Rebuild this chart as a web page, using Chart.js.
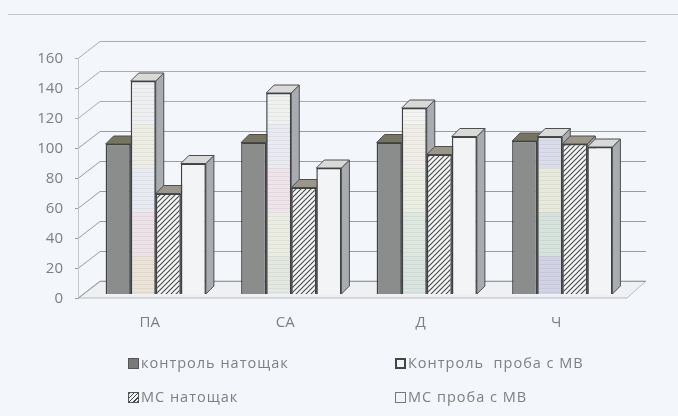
<!DOCTYPE html>
<html>
<head>
<meta charset="utf-8">
<script src="https://cdn.jsdelivr.net/npm/chart.js@4"></script>
<style>
    html, body { margin: 0; padding: 0; background: #f3f6fb; overflow: hidden; }
    #wrap { position: relative; width: 678px; height: 416px; filter: blur(0.5px); }
    #myChart { position: absolute; left: 0; top: 0; }
    #rule { position: absolute; left: 8px; right: 0; top: 14px; height: 1px; background: #c6c8ca; }
    .item { position: absolute; font: 14.5px "Open Sans", sans-serif; color: #7c7f83; white-space: pre; letter-spacing: 1px; line-height: 16px; }
    .box { display: inline-block; width: 9px; height: 9px; margin-right: 2px; border: 1px solid #555; vertical-align: -1px; }
</style>
</head>
<body>
<div id="wrap">
    <div id="rule"></div>
    <canvas id="myChart" width="678" height="416"></canvas>
    <div id="legend"></div>
</div>
<script>
const labels = ['ПА', 'СА', 'Д', 'Ч'];
const names = ['контроль натощак', 'Контроль  проба с МВ', 'МС натощак', 'МС проба с МВ'];
const controlFasting = [100, 101, 101, 102];
const controlTest = [142, 134, 124, 105];
const msFasting = [67, 71, 93, 100];
const msTest = [87, 84, 105, 98];

// scan colours of the second series, from top to bottom of each bar
const bands = [
    ['#eff0f2', '#eeede3', '#e8eaf2', '#ece2e8', '#ebe2d8'],
    ['#eff2ee', '#eaebf2', '#eee4ea', '#ebede2', '#e3e9e1'],
    ['#f3f3f1', '#f0ede7', '#ebeee3', '#dee8df', '#d9e4df'],
    ['#e8ede4', '#dbdcea', '#e6e9dc', '#d6e2dc', '#d1d3e4'],
];

// 3d look: the bars stand mid floor, the walls sit behind them
const depthX = 8, depthY = 8;
const frontDx = -10, frontDy = 4;
const backDx = 12, backDy = -13;

function makePattern(draw, w, h) {
    const c = document.createElement('canvas');
    c.width = w;
    c.height = h;
    draw(c.getContext('2d'));
    return document.createElement('canvas').getContext('2d').createPattern(c, 'repeat');
}

const hatch = makePattern(function (g) {
    g.fillStyle = '#f5f6f6';
    g.fillRect(0, 0, 5, 5);
    g.strokeStyle = '#4c4e50';
    g.lineWidth = 1.2;
    g.beginPath();
    g.moveTo(-1, 6); g.lineTo(6, -1);
    g.moveTo(-1, 1); g.lineTo(1, -1);
    g.moveTo(4, 6); g.lineTo(6, 4);
    g.stroke();
}, 5, 5);

const stripes = bands.map(function (colors) {
    return makePattern(function (g) {
        const top = 80, step = 44;
        for (let y = 0; y < 416; y++) {
            const i = Math.max(0, Math.min(colors.length - 1, Math.floor((y - top) / step)));
            g.fillStyle = colors[i];
            g.fillRect(0, y, 4, 1);
            if (y % 4 == 0) {
                g.fillStyle = 'rgba(120,120,120,.10)';
                g.fillRect(0, y, 4, 1);
            }
        }
    }, 4, 416);
});

const gridBox = {
    id: 'gridBox',
    beforeDatasetsDraw(chart) {
        const c = chart.ctx, a = chart.chartArea, y = chart.scales.y;
        const x0 = a.left + frontDx, x1 = a.right + frontDx + 7;
        const bx0 = a.left + backDx, bx1 = a.right + backDx + 4;
        const zero = y.getPixelForValue(0);
        c.save();
        c.lineWidth = 1;

        c.fillStyle = '#eef0f3';
        c.beginPath();
        c.moveTo(x0, zero + frontDy);
        c.lineTo(bx0, zero + backDy);
        c.lineTo(bx1, zero + backDy);
        c.lineTo(x1, zero + frontDy);
        c.closePath();
        c.fill();
        c.strokeStyle = '#b9bbbd';
        c.stroke();

        y.ticks.forEach(function (t) {
            const p = Math.round(y.getPixelForValue(t.value)) + .5;
            c.strokeStyle = t.value > 100 ? '#a9abad' : '#999b9d';
            c.beginPath();
            c.moveTo(x0 - 3, p + frontDy);
            c.lineTo(x0, p + frontDy);
            c.lineTo(bx0, p + backDy);
            c.lineTo(bx1, p + backDy);
            c.stroke();
        });

        c.strokeStyle = '#c4c6c8';
        c.beginPath();
        c.moveTo(x0 + .5, y.getPixelForValue(160) + frontDy);
        c.lineTo(x0 + .5, zero + frontDy);
        c.stroke();

        // side and top faces, left to right, fronts are painted over them by the library
        chart.data.datasets.forEach(function (ds, i) {
            chart.getDatasetMeta(i).data.forEach(function (bar) {
                const l = bar.x - bar.width / 2, r = bar.x + bar.width / 2;
                const t = bar.y, b = bar.base;
                c.strokeStyle = '#4c4e50';
                c.fillStyle = '#a8acb1';
                c.beginPath();
                c.moveTo(r, t);
                c.lineTo(r + depthX, t - depthY);
                c.lineTo(r + depthX, b - depthY);
                c.lineTo(r, b);
                c.closePath();
                c.fill();
                c.stroke();
                c.fillStyle = i == 0 ? '#77745f' : i == 2 ? '#9a9788' : '#d9dad8';
                c.beginPath();
                c.moveTo(l, t);
                c.lineTo(l + depthX, t - depthY);
                c.lineTo(r + depthX, t - depthY);
                c.lineTo(r, t);
                c.closePath();
                c.fill();
                c.stroke();
            });
        });
        c.restore();
    }
};

const data = {
    labels: labels,
    datasets: [{
        label: names[0],
        backgroundColor: '#8a8d8b',
        data: controlFasting,
    }, {
        label: names[1],
        backgroundColor: function (ctx) { return stripes[ctx.dataIndex]; },
        data: controlTest,
    }, {
        label: names[2],
        backgroundColor: hatch,
        data: msFasting,
    }, {
        label: names[3],
        backgroundColor: '#f3f4f6',
        data: msTest,
    }]
};

const config = {
    type: 'bar',
    data: data,
    plugins: [gridBox],
    options: {
        responsive: false,
        animation: false,
        layout: {
            padding: { top: 54, right: 48, left: 0, bottom: 0 },
        },
        borderColor: '#3f4143',
        borderWidth: 1.5,
        categoryPercentage: .74,
        barPercentage: 1,
        plugins: {
            legend: { display: false },
            tooltip: { enabled: false },
        },
        scales: {
            x: {
                afterFit: function (s) { s.height = 122; },
                grid: { display: false },
                border: { display: false },
                ticks: {
                    color: '#7c7f83',
                    font: { family: 'Open Sans', size: 15 },
                    padding: 12,
                    labelOffset: -6,
                },
            },
            y: {
                min: 0,
                max: 160,
                afterFit: function (s) { s.width = 88; },
                grid: { display: false },
                border: { display: false },
                ticks: {
                    stepSize: 20,
                    color: '#7c7f83',
                    font: { family: 'Open Sans', size: 15 },
                    padding: 17,
                    labelOffset: 5,
                },
            },
        }
    }
};

const myChart = new Chart(
    document.getElementById('myChart'),
    config
);

// legend sits in two columns under the chart
const legendSpots = [[128, 355], [395, 355], [128, 389], [395, 389]];
const boxStyles = [
    'background:#77797a',
    'background:#f3f4f6;border:2px solid #444;width:7px;height:7px',
    'background:repeating-linear-gradient(135deg,#444 0 1px,#f3f4f6 1px 3px)',
    'background:#f3f4f6;border-color:#777',
];
names.forEach(function (name, i) {
    const item = document.createElement('div');
    item.className = 'item';
    item.style.left = legendSpots[i][0] + 'px';
    item.style.top = legendSpots[i][1] + 'px';
    const box = document.createElement('span');
    box.className = 'box';
    box.style.cssText = boxStyles[i];
    item.appendChild(box);
    item.appendChild(document.createTextNode(name));
    document.getElementById('legend').appendChild(item);
});
</script>
</body>
</html>
